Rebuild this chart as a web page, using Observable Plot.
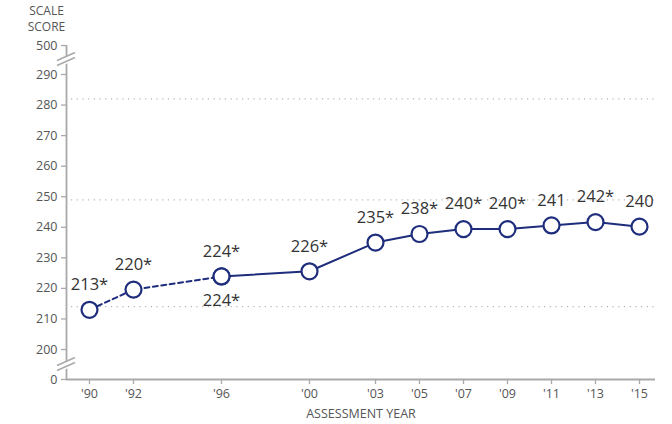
<!DOCTYPE html>
<html>
<head>
<meta charset="utf-8">
<script src="https://cdn.jsdelivr.net/npm/d3@7"></script>
<script src="https://cdn.jsdelivr.net/npm/@observablehq/plot@0.6"></script>
<style>
  html, body { margin: 0; padding: 0; background: #fff; }
  svg { font-family: "Open Sans", sans-serif; }
</style>
</head>
<body>
<div id="chart"></div>
<script>
// ---- data ----
const years = [1990, 1992, 1996, 2000, 2003, 2005, 2007, 2009, 2011, 2013, 2015];
const notPermittedYears = [1990, 1992, 1996];
const notPermittedScores = [213, 219.6, 223.9];
const notPermittedLabels = ["213*", "220*", "224*"];
const notPermittedLabelSide = ["above", "above", "below"];
const permittedYears = [1996, 2000, 2003, 2005, 2007, 2009, 2011, 2013, 2015];
const permittedScores = [223.9, 225.6, 235, 237.8, 239.4, 239.4, 240.6, 241.7, 240.2];
const permittedLabels = ["224*", "226*", "235*", "238*", "240*", "240*", "241", "242*", "240"];
const achievementLevels = [282, 249, 214];
const yTickValues = [0, 200, 210, 220, 230, 240, 250, 260, 270, 280, 290, 500];

// ---- broken axis mapping (0 and 500 sit just past the breaks) ----
const pxPerUnit = 275 / 90;
const yLow = 200 - 30 / pxPerUnit;   // where 0 is shown
const yHigh = 290 + 29 / pxPerUnit;  // where 500 is shown
const toDisplay = v => v === 0 ? yLow : v === 500 ? yHigh : v;
const breakDisplay = [290 + 15 / pxPerUnit, 200 - 15 / pxPerUnit];
const xDomain = [1990 - 23 / 22, 2015 + 16 / 22];

const navy = "#1e2d7c";
const axisGray = "#a9a9a9";
const tickText = "#555";
const labelText = "#333";

const npData = notPermittedYears.map((y, i) => ({year: y, score: notPermittedScores[i], label: notPermittedLabels[i], side: notPermittedLabelSide[i]}));
const pData = permittedYears.map((y, i) => ({year: y, score: permittedScores[i], label: permittedLabels[i], side: "above"}));
const allLabels = npData.concat(pData);

const displayTicks = yTickValues.map(toDisplay);

const plot = Plot.plot({
  width: 672,
  height: 424,
  marginLeft: 66,
  marginRight: 17,
  marginTop: 45,
  marginBottom: 45,
  style: {fontFamily: "Open Sans, sans-serif", background: "#fff", overflow: "visible"},
  x: {type: "linear", domain: xDomain},
  y: {domain: [yLow, yHigh]},
  marks: [
    Plot.ruleY(achievementLevels, {stroke: "#b5b5b5", strokeWidth: 1.2, strokeDasharray: "1.2,4.5", insetLeft: 5}),
    Plot.axisY({
      ticks: displayTicks,
      tickFormat: d => {
        const i = displayTicks.findIndex(t => Math.abs(t - d) < 1e-6);
        return i >= 0 ? String(yTickValues[i]) : "";
      },
      tickSize: 5, tickPadding: 4, fontSize: 12.5, color: tickText, stroke: axisGray, strokeWidth: 1.3, label: null
    }),
    Plot.axisX({
      ticks: years,
      tickFormat: d => "'" + String(d).slice(2),
      tickSize: 5, tickPadding: 5, fontSize: 12.5, color: tickText, stroke: axisGray, strokeWidth: 1.3, label: null
    }),
    Plot.ruleX([xDomain[0]], {y1: yLow, y2: yHigh, stroke: axisGray, strokeWidth: 1.8}),
    Plot.ruleY([yLow], {stroke: axisGray, strokeWidth: 1.8}),
    Plot.line(npData, {x: "year", y: "score", stroke: navy, strokeWidth: 2, strokeDasharray: "5,3.5"}),
    Plot.line(pData, {x: "year", y: "score", stroke: navy, strokeWidth: 2}),
    Plot.dot(npData, {x: "year", y: "score", r: 8, fill: "#fff", stroke: navy, strokeWidth: 2.2}),
    Plot.dot(pData, {x: "year", y: "score", r: 8, fill: "#fff", stroke: navy, strokeWidth: 2.2}),
    Plot.text(allLabels.filter(d => d.side === "above"), {
      x: "year", y: "score", text: "label", fill: labelText, fontSize: 16.5, dy: -25
    }),
    Plot.text(allLabels.filter(d => d.side === "below"), {
      x: "year", y: "score", text: "label", fill: labelText, fontSize: 16.5, dy: 24
    }),
    Plot.text(["SCALE"], {frameAnchor: "top-left", text: d => d, dx: -20, dy: -34, fill: tickText, fontSize: 12, textAnchor: "middle", lineAnchor: "middle"}),
    Plot.text(["SCORE"], {frameAnchor: "top-left", text: d => d, dx: -20, dy: -18, fill: tickText, fontSize: 12, textAnchor: "middle", lineAnchor: "middle"}),
    Plot.text(["ASSESSMENT YEAR"], {frameAnchor: "bottom", text: d => d, dy: 34, fill: tickText, fontSize: 12.5, lineAnchor: "middle"})
  ]
});

document.getElementById("chart").appendChild(plot);

// ---- axis break marks, placed through the plot's own scales ----
const sx = plot.scale("x"), sy = plot.scale("y");
const svg = d3.select(plot);
const bx = sx.apply(xDomain[0]);
const g = svg.append("g");
breakDisplay.forEach(v => {
  const by = sy.apply(v);
  g.append("path")
    .attr("d", `M${bx - 9},${by + 1} L${bx + 9},${by - 7} L${bx + 9},${by + 1} L${bx - 9},${by + 9} Z`)
    .attr("fill", "#fff");
  [-2.5, 2.5].forEach(o => {
    g.append("line")
      .attr("x1", bx - 9).attr("y1", by + 4 + o)
      .attr("x2", bx + 9).attr("y2", by - 4 + o)
      .attr("stroke", axisGray).attr("stroke-width", 1.6);
  });
});
</script>
</body>
</html>
